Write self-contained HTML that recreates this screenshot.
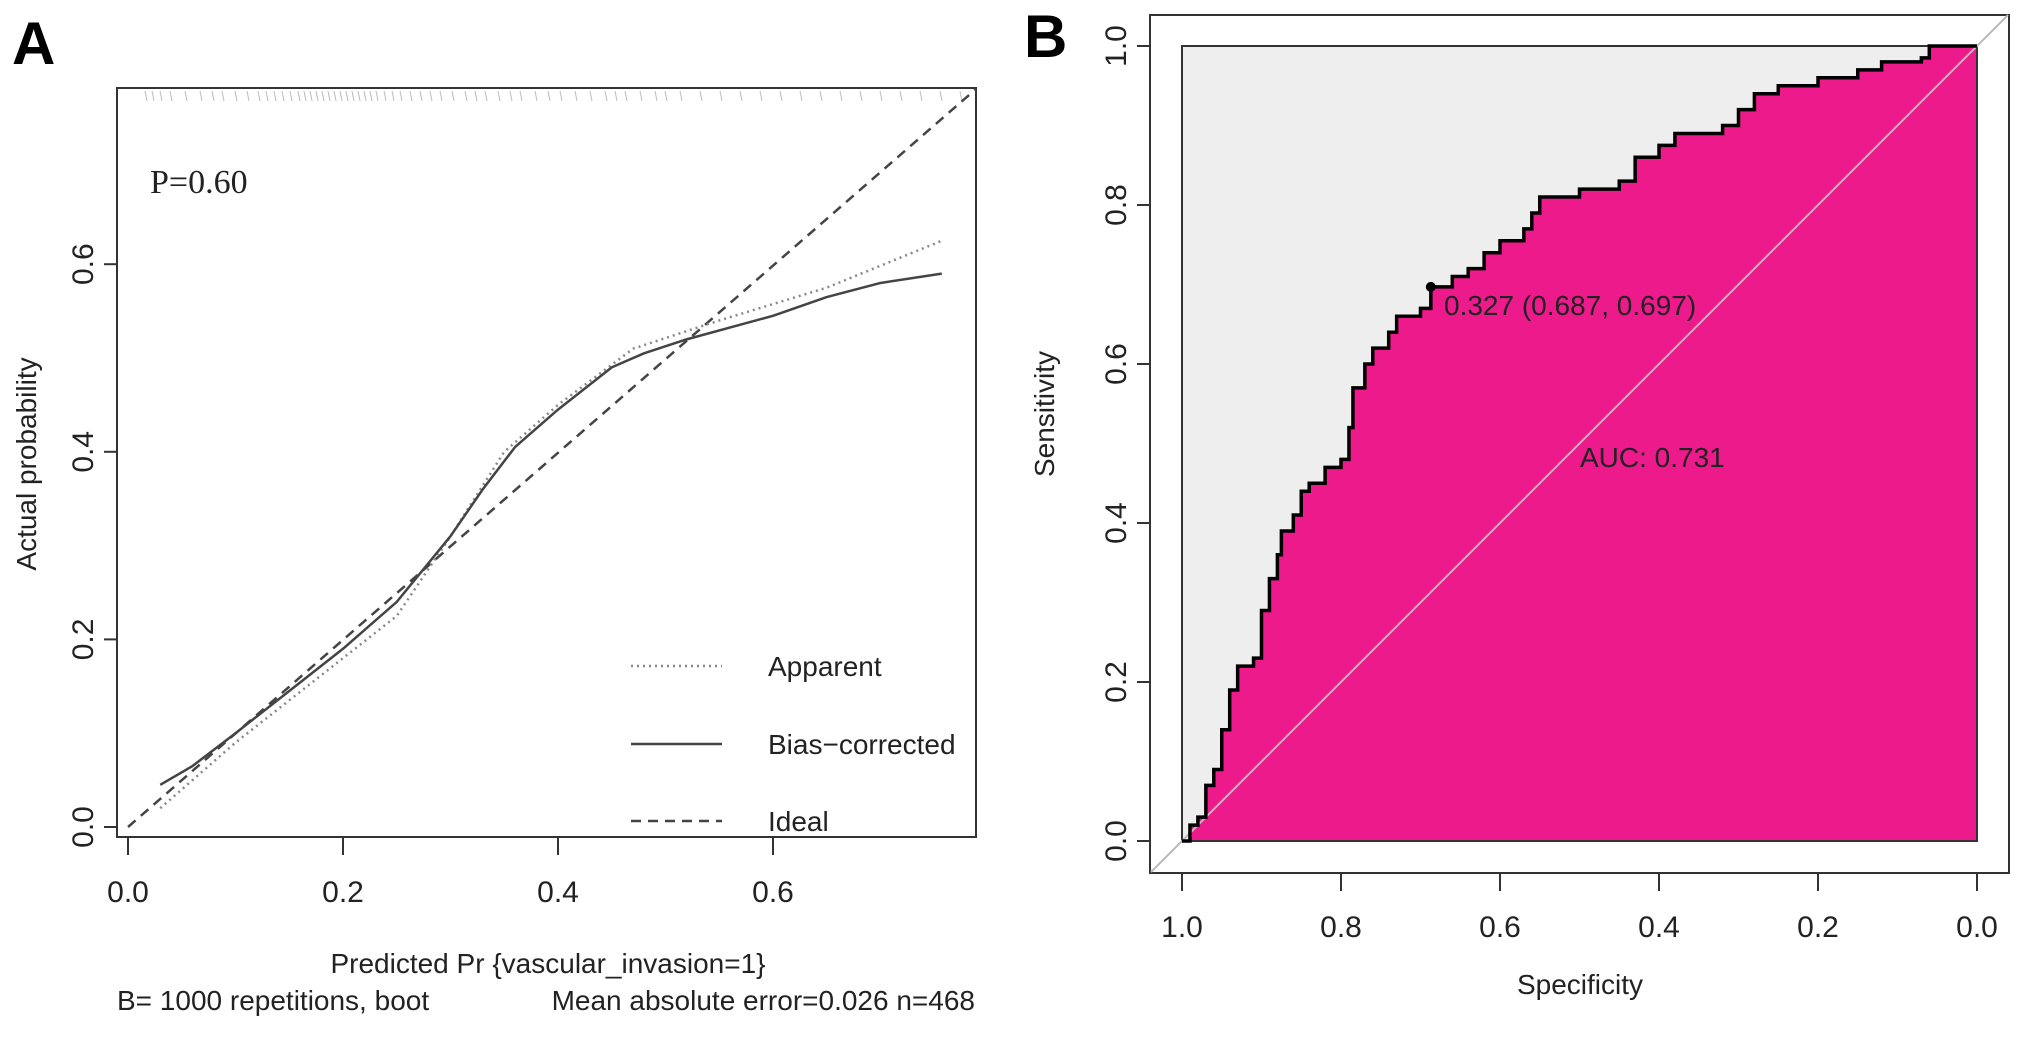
<!DOCTYPE html>
<html><head><meta charset="utf-8"><style>
html,body{margin:0;padding:0;background:#fff;}
svg{display:block;font-family:"Liberation Sans",sans-serif;}
</style></head><body>
<svg id="fig" width="2031" height="1037" viewBox="0 0 2031 1037" xmlns="http://www.w3.org/2000/svg">
<text x="12" y="64" font-size="60" font-weight="bold">A</text>
<text x="1024" y="57" font-size="60" font-weight="bold">B</text>
<g id="pa"></g>
<g id="pb"></g>
</svg>
<script>
// Panel A data
const calTicks = [0.0, 0.2, 0.4, 0.6];
const biasX = [0.03,0.06,0.1,0.15,0.2,0.25,0.3,0.33,0.36,0.4,0.45,0.48,0.52,0.6,0.65,0.7,0.757];
const biasY = [0.045,0.065,0.1,0.145,0.19,0.24,0.31,0.36,0.405,0.445,0.49,0.505,0.52,0.545,0.565,0.58,0.59];
const appX = [0.03,0.1,0.2,0.25,0.3,0.35,0.4,0.47,0.55,0.65,0.757];
const appY = [0.02,0.09,0.18,0.225,0.31,0.4,0.45,0.51,0.54,0.575,0.625];
// Panel B data
const rocTicks = [1.0, 0.8, 0.6, 0.4, 0.2, 0.0];
const rocSpec = [1,0.99,0.98,0.97,0.96,0.95,0.94,0.93,0.91,0.90,0.89,0.88,0.875,0.86,0.85,0.84,0.82,0.80,0.79,0.785,0.77,0.76,0.74,0.73,0.70,0.687,0.66,0.64,0.62,0.60,0.57,0.56,0.55,0.50,0.45,0.43,0.40,0.38,0.32,0.30,0.28,0.25,0.20,0.15,0.12,0.07,0.06,0];
const rocSens = [0,0.02,0.03,0.07,0.09,0.14,0.19,0.22,0.23,0.29,0.33,0.36,0.39,0.41,0.44,0.45,0.47,0.48,0.52,0.57,0.6,0.62,0.64,0.66,0.67,0.697,0.71,0.72,0.74,0.755,0.77,0.79,0.81,0.82,0.83,0.86,0.875,0.89,0.90,0.92,0.94,0.95,0.96,0.97,0.98,0.985,1.0,1];
const bestPoint = [0.687, 0.697];
const aucLabel = "AUC: 0.731";
const bestLabel = "0.327 (0.687, 0.697)";

const NS="http://www.w3.org/2000/svg";
function mk(parent,tag,attrs,text){const e=document.createElementNS(NS,tag);for(const k in attrs)e.setAttribute(k,attrs[k]);if(text!==undefined)e.textContent=text;parent.appendChild(e);return e;}

// ---- Panel A
const pa=document.getElementById('pa');
const ax=v=>128+v*1075, ay=v=>827-v*938;
let r=mk(pa,'rect',{x:117,y:88,width:859,height:749,fill:'none',stroke:'#333','stroke-width':2});


let rug=mk(pa,'g',{stroke:'#bbb','stroke-width':1});


let rx=[145,152,160,170,185,200,212,222,235,247,258,266,274,282,290,298,304,310,316,322,328,334,340,346,352,358,364,370,376,384,392,400,410,420,430,440,452,465,475,485,498,510,520,535,548,560,575,590,605,615,625,640,655,665,680,700,720,740,760,780,800,820,840,860,880,900,920,940,960];
rx.forEach(x=>mk(rug,'line',{x1:x,y1:91,x2:x+2,y2:101}));
let id=mk(pa,'line',{x1:ax(0),y1:ay(0),x2:976,y2:89,stroke:'#444','stroke-width':2.5,'stroke-dasharray':'10,7'});


let ap=mk(pa,'polyline',{points:appX.map((v,i)=>ax(v)+','+ay(appY[i])).join(' '),fill:'none',stroke:'#888','stroke-width':2.5,'stroke-dasharray':'2,4'});


let bc=mk(pa,'polyline',{points:biasX.map((v,i)=>ax(v)+','+ay(biasY[i])).join(' '),fill:'none',stroke:'#444','stroke-width':2.5,'stroke-linejoin':'round'});


calTicks.forEach(t=>{
  let l=mk(pa,'line',{x1:ax(t),y1:837,x2:ax(t),y2:855,stroke:'#333','stroke-width':2});
  
  
  let tx=mk(pa,'text',{x:ax(t),y:902,'font-size':30,'text-anchor':'middle',fill:'#222'},t.toFixed(1));
  
  
  let l2=mk(pa,'line',{x1:117,y1:ay(t),x2:104,y2:ay(t),stroke:'#333','stroke-width':2});
  
  
  let ty=mk(pa,'text',{x:0,y:0,'font-size':30,'text-anchor':'middle',fill:'#222',transform:`translate(93,${ay(t)}) rotate(-90)`},t.toFixed(1));
  
  
});
let yl=mk(pa,'text',{x:0,y:0,'font-size':28,'text-anchor':'middle',fill:'#222',transform:'translate(36,464) rotate(-90)'},'Actual probability');


let xl=mk(pa,'text',{x:548,y:973,'font-size':28,'text-anchor':'middle',fill:'#222'},'Predicted Pr {vascular_invasion=1}');


let s1=mk(pa,'text',{x:117,y:1010,'font-size':28,fill:'#222'},'B= 1000 repetitions, boot');


let s2=mk(pa,'text',{x:975,y:1010,'font-size':28,'text-anchor':'end',fill:'#222'},'Mean absolute error=0.026 n=468');


let pv=mk(pa,'text',{x:150,y:193,'font-size':34,'font-family':'Liberation Serif, serif',fill:'#222'},'P=0.60');


[['Apparent',666,{stroke:'#888','stroke-dasharray':'2,4'}],['Bias\u2212corrected',744,{stroke:'#444'}],['Ideal',821,{stroke:'#444','stroke-dasharray':'10,7'}]].forEach(([n,y,st])=>{
  let g=mk(pa,'g',{});
  
  
  mk(g,'line',Object.assign({x1:631,y1:y,x2:722,y2:y,'stroke-width':2.5},st));
  mk(g,'text',{x:768,y:y+10,'font-size':28,fill:'#222'},n);
});

// ---- Panel B
const pb=document.getElementById('pb');
const bx=v=>1977-v*795, by=v=>841-v*795;
let fr=mk(pb,'rect',{x:1150,y:15,width:859,height:858,fill:'#fff',stroke:'#333','stroke-width':2});


let gr=mk(pb,'rect',{x:bx(1),y:by(1),width:795,height:795,fill:'#eeeeee'});


let pts=[];
rocSpec.forEach((s,i)=>{ if(i>0) pts.push([bx(s),by(rocSens[i-1])]); pts.push([bx(s),by(rocSens[i])]); });
let ptxt=pts.map(p=>p[0]+','+p[1]).join(' ');
let fill=mk(pb,'polygon',{points:ptxt+' '+bx(0)+','+by(0),fill:'#ec1a8a'});


let box=mk(pb,'rect',{x:bx(1),y:by(1),width:795,height:795,fill:'none',stroke:'#333','stroke-width':2});


let dg=mk(pb,'line',{x1:1151,y1:by(0)+(bx(1)-1151),x2:2008,y2:by(1)-(2008-bx(0)),stroke:'#bbb','stroke-width':2});


let rc=mk(pb,'polyline',{points:ptxt,fill:'none',stroke:'#000','stroke-width':3.5});


let bp=mk(pb,'circle',{cx:bx(bestPoint[0]),cy:by(bestPoint[1]),r:5,fill:'#000'});


let bl=mk(pb,'text',{x:1444,y:315,'font-size':28,fill:'#222'},bestLabel);


let al=mk(pb,'text',{x:1580,y:467,'font-size':28,fill:'#222'},aucLabel);


rocTicks.forEach(t=>{
  let l=mk(pb,'line',{x1:bx(t),y1:873,x2:bx(t),y2:891,stroke:'#333','stroke-width':2});
  
  
  let tx=mk(pb,'text',{x:bx(t),y:937,'font-size':30,'text-anchor':'middle',fill:'#222'},t.toFixed(1));
  
  
  let l2=mk(pb,'line',{x1:1150,y1:by(t),x2:1137,y2:by(t),stroke:'#333','stroke-width':2});
  
  
  let ty=mk(pb,'text',{x:0,y:0,'font-size':30,'text-anchor':'middle',fill:'#222',transform:`translate(1126,${by(t)}) rotate(-90)`},t.toFixed(1));
  
  
});
let xb=mk(pb,'text',{x:1580,y:994,'font-size':28,'text-anchor':'middle',fill:'#222'},'Specificity');


let yb=mk(pb,'text',{x:0,y:0,'font-size':28,'text-anchor':'middle',fill:'#222',transform:'translate(1054,414) rotate(-90)'},'Sensitivity');


</script>
</body></html>
